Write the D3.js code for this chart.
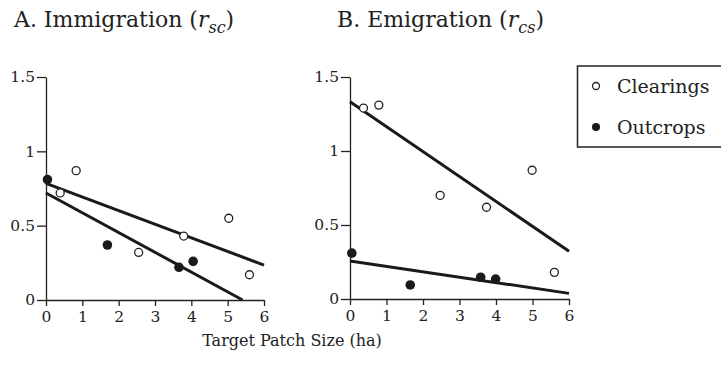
<!DOCTYPE html>
<html>
<head>
<meta charset="utf-8">
<script src="https://cdn.jsdelivr.net/npm/d3@7"></script>
<style>
  body { margin: 0; background: #fff; }
  svg { display: block; }
  text { font-family: "DejaVu Serif", serif; fill: #222; }
  .axis path, .axis line { stroke: #222; stroke-width: 1.3; }
  .axis text { font-size: 15.5px; font-family: "DejaVu Serif", serif; fill: #222; }
</style>
</head>
<body>
<div class="drawingboard"></div>
<script>
// patch sizes (ha) and rates
var immClearX = [0.39, 0.83, 2.55, 3.79, 5.03, 5.6];
var immClearY = [0.72, 0.87, 0.32, 0.43, 0.55, 0.17];
var immOutX = [0.04, 1.69, 3.66, 4.05];
var immOutY = [0.81, 0.37, 0.22, 0.26];

var emiClearX = [0.37, 0.79, 2.47, 3.74, 4.99, 5.6];
var emiClearY = [1.29, 1.31, 0.70, 0.62, 0.87, 0.18];
var emiOutX = [0.05, 1.65, 3.58, 3.99];
var emiOutY = [0.31, 0.095, 0.147, 0.135];

// fitted lines, endpoints [x, y]
var immClearLine = [[0, 0.785], [6, 0.235]];
var immOutLine = [[0, 0.72], [5.41, 0]];
var emiClearLine = [[0, 1.333], [6, 0.322]];
var emiOutLine = [[0, 0.257], [6, 0.038]];

var xTicks = [0, 1, 2, 3, 4, 5, 6];
var yTicks = [0, 0.5, 1, 1.5];
var legendLabels = ["Clearings", "Outcrops"];

var width = 721, height = 377;

var svg = d3.select(".drawingboard")
    .append("svg")
    .attr("width", width)
    .attr("height", height);

function zip(xs, ys) {
    return xs.map(function (x, i) { return [x, ys[i]]; });
}

function panel(opts) {
    var x = d3.scaleLinear().domain([0, 6]).range([opts.left, opts.right]);
    var y = d3.scaleLinear().domain([0, 1.5]).range([opts.bottom, opts.top]);

    var g = svg.append("g");

    g.append("g")
        .attr("class", "axis")
        .attr("transform", "translate(0," + opts.bottom + ")")
        .call(d3.axisBottom(x).tickValues(xTicks).tickSize(6).tickSizeOuter(0).tickPadding(5)
            .tickFormat(d3.format("d")));

    g.append("g")
        .attr("class", "axis")
        .attr("transform", "translate(" + opts.left + ",0)")
        .call(d3.axisLeft(y).tickValues(yTicks).tickSize(9).tickSizeOuter(0).tickPadding(2)
            .tickFormat(function (d) { return d3.format("")(d); }));

    var line = d3.line()
        .x(function (d) { return x(d[0]); })
        .y(function (d) { return y(d[1]); });

    opts.lines.forEach(function (l) {
        g.append("path")
            .attr("d", line(l))
            .attr("fill", "none")
            .attr("stroke", "#1a1a1a")
            .attr("stroke-width", 3);
    });

    g.selectAll(".open")
        .data(opts.clear)
        .enter().append("circle")
        .attr("cx", function (d) { return x(d[0]); })
        .attr("cy", function (d) { return y(d[1]); })
        .attr("r", 4)
        .style("fill", "white")
        .style("stroke", "#222")
        .style("stroke-width", 1.3);

    g.selectAll(".filled")
        .data(opts.out)
        .enter().append("circle")
        .attr("cx", function (d) { return x(d[0]); })
        .attr("cy", function (d) { return y(d[1]); })
        .attr("r", 4.8)
        .style("fill", "#1a1a1a");

    var t = svg.append("text")
        .attr("x", opts.titleX)
        .attr("y", 27)
        .style("font-size", "22px");
    t.append("tspan").text(opts.title + " (");
    t.append("tspan").style("font-style", "italic").text("r");
    t.append("tspan").attr("dy", 6).style("font-style", "italic").style("font-size", "16px").text(opts.sub);
    t.append("tspan").attr("dy", -6).text(")");
}

panel({
    left: 46, right: 264, top: 77, bottom: 300,
    clear: zip(immClearX, immClearY), out: zip(immOutX, immOutY),
    lines: [immClearLine, immOutLine],
    title: "A. Immigration", sub: "sc", titleX: 14
});

panel({
    left: 350, right: 569, top: 77, bottom: 299,
    clear: zip(emiClearX, emiClearY), out: zip(emiOutX, emiOutY),
    lines: [emiClearLine, emiOutLine],
    title: "B. Emigration", sub: "cs", titleX: 337
});

// legend
var legend = svg.append("g");
legend.append("rect")
    .attr("x", 577.5).attr("y", 66)
    .attr("width", 160).attr("height", 81)
    .style("fill", "none")
    .style("stroke", "#222")
    .style("stroke-width", 1.5);

legendLabels.forEach(function (name, i) {
    var cy = 86 + i * 41;
    legend.append("circle")
        .attr("cx", 596).attr("cy", cy)
        .attr("r", i === 0 ? 3.5 : 4)
        .style("fill", i === 0 ? "white" : "#1a1a1a")
        .style("stroke", "#222")
        .style("stroke-width", i === 0 ? 1.3 : 0);
    legend.append("text")
        .attr("x", 617).attr("y", cy + 7)
        .style("font-size", "19px")
        .text(name);
});

svg.append("text")
    .attr("x", 292).attr("y", 346)
    .attr("text-anchor", "middle")
    .style("font-size", "16px")
    .text("Target Patch Size (ha)");
</script>
</body>
</html>
